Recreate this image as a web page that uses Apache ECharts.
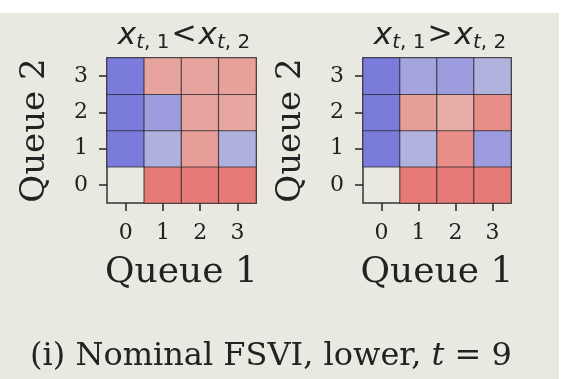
<!DOCTYPE html>
<html><head><meta charset="utf-8">
<script src="https://cdn.jsdelivr.net/npm/echarts@6/dist/echarts.min.js"></script>
<style>html,body{margin:0;padding:0;background:#fff}#c{width:562px;height:379px}</style>
</head><body><div id="c"></div>
<script>
const queue1 = ['0','1','2','3'];
const queue2 = ['0','1','2','3'];
// rows: queue2 = 0..3, columns: queue1 = 0..3 ; null = empty cell
const leftValues = [
  [null, 1.0, 1.0, 1.0],
  [-1.0, -0.52, 0.68, -0.52],
  [-1.0, -0.70, 0.62, 0.60],
  [-1.0, 0.62, 0.62, 0.66]
];
const rightValues = [
  [null, 1.0, 1.0, 1.0],
  [-1.0, -0.50, 0.82, -0.70],
  [-1.0, 0.68, 0.55, 0.82],
  [-1.0, -0.63, -0.70, -0.50]
];
function toData(m){
  const out=[];
  for(let y=0;y<m.length;y++) for(let x=0;x<m[y].length;x++){
    out.push([x,y,m[y][x]===null?'-':m[y][x]]);
  }
  return out;
}
const SERIF = 'DejaVu Serif';
const txt = '#222';
const chart = echarts.init(document.getElementById('c'));
function xAx(i){return {type:'category',data:queue1,gridIndex:i,name:'Queue 1',nameLocation:'middle',nameGap:52,
  nameTextStyle:{fontFamily:SERIF,fontSize:36,color:txt},
  axisLine:{show:false},axisTick:{show:true,alignWithLabel:true,length:8,lineStyle:{color:'#222',width:1.5}},
  axisLabel:{fontFamily:SERIF,fontSize:22,color:txt,margin:19},splitArea:{show:false}};}
function yAx(i){return {type:'category',data:queue2,gridIndex:i,name:'Queue 2',nameLocation:'middle',nameGap:55,nameRotate:90,
  nameTextStyle:{fontFamily:SERIF,fontSize:34,color:txt},
  axisLine:{show:false},axisTick:{show:true,alignWithLabel:true,length:8,lineStyle:{color:'#222',width:1.5}},
  axisLabel:{fontFamily:SERIF,fontSize:22,color:txt,margin:19},splitArea:{show:false}};}
const rich = {
  x:{fontFamily:'DejaVu Sans',fontStyle:'italic',fontWeight:'normal',fontSize:31,color:txt},
  s:{fontFamily:'DejaVu Sans',fontWeight:'normal',fontSize:20,color:txt,padding:[15,0,0,0]},
  si:{fontFamily:'DejaVu Sans',fontStyle:'italic',fontWeight:'normal',fontSize:20,color:txt,padding:[15,0,0,0]},
  o:{fontFamily:'DejaVu Sans',fontWeight:'normal',fontSize:30,color:txt,padding:[0,2,0,2]}
};
const capRich = {
  a:{fontFamily:SERIF,fontWeight:'normal',fontSize:32,color:txt},
  t:{fontFamily:SERIF,fontStyle:'italic',fontWeight:'normal',fontSize:32,color:txt}
};
chart.setOption({
  backgroundColor:'#e9e9e1',
  animation:false,
  graphic:[
    {type:'rect',shape:{x:0,y:0,width:562,height:13},style:{fill:'#ffffff'}},
    {type:'rect',shape:{x:559,y:0,width:3,height:379},style:{fill:'#ffffff'}}
  ],
  title:[
    {text:'{x|x}{si|t}{s|, 1}{o|<}{x|x}{si|t}{s|, 2}',left:179,top:13,textAlign:'center',textStyle:{fontWeight:'normal',rich:rich}},
    {text:'{x|x}{si|t}{s|, 1}{o|>}{x|x}{si|t}{s|, 2}',left:435,top:13,textAlign:'center',textStyle:{fontWeight:'normal',rich:rich}},
    {text:'{a|(i) Nominal FSVI, lower, }{t|t}{a| = 9}',left:25,top:336,textStyle:{fontWeight:'normal',rich:capRich}}
  ],
  grid:[
    {left:107,top:58,width:149,height:145,show:true,borderColor:'#333',borderWidth:1.5,backgroundColor:'transparent'},
    {left:363,top:58,width:148,height:145,show:true,borderColor:'#333',borderWidth:1.5,backgroundColor:'transparent'}
  ],
  xAxis:[xAx(0),xAx(1)],
  yAxis:[yAx(0),yAx(1)],
  visualMap:{show:false,type:'continuous',min:-1,max:1,seriesIndex:[0,1],
    inRange:{color:['#7b7bdc','#e9e9e1','#e67a76']}},
  series:[
    {type:'heatmap',xAxisIndex:0,yAxisIndex:0,data:toData(leftValues),itemStyle:{borderColor:'rgba(40,40,40,0.75)',borderWidth:1.2}},
    {type:'heatmap',xAxisIndex:1,yAxisIndex:1,data:toData(rightValues),itemStyle:{borderColor:'rgba(40,40,40,0.75)',borderWidth:1.2}}
  ]
});
</script></body></html>
